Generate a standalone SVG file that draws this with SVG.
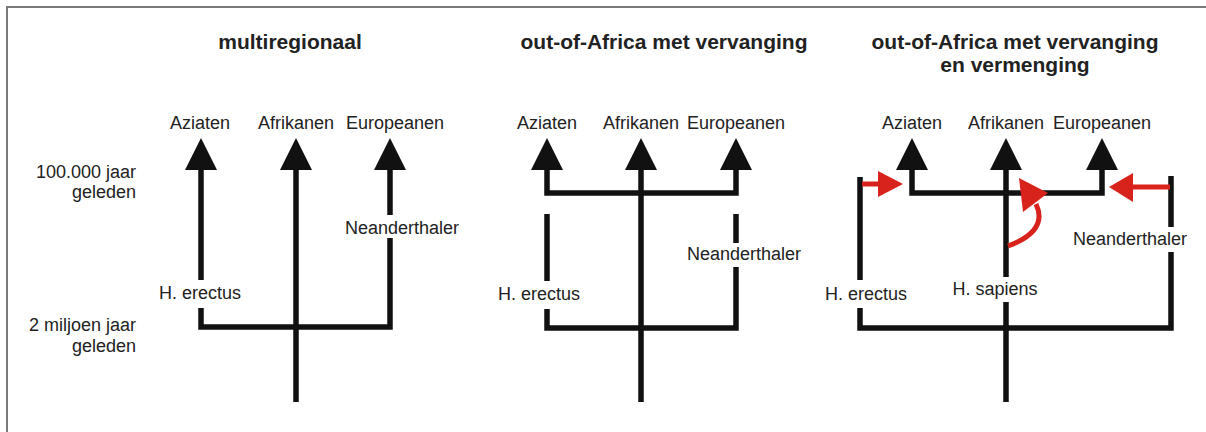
<svg xmlns="http://www.w3.org/2000/svg" width="1206" height="432" viewBox="0 0 1206 432">
<defs>
<style>
.t{font-family:"Liberation Sans",Arial,sans-serif;font-weight:bold;font-size:21px;fill:#222;text-anchor:middle}
.l{font-family:"Liberation Sans",Arial,sans-serif;font-size:18px;fill:#222;text-anchor:middle}
.r{text-anchor:end}
.k{fill:none;stroke:#111;stroke-width:5.5;stroke-linecap:butt;stroke-linejoin:miter}
.h{fill:#111}
.red{fill:none;stroke:#d8231d;stroke-width:5}
.rh{fill:#d8231d}
</style>
</defs>
<rect width="1206" height="432" fill="#fff"/>
<path d="M7,432 V7 H1206" fill="none" stroke="#7a7a7a" stroke-width="2"/>

<g id="axis">
<text class="l r" x="136" y="178">100.000 jaar</text>
<text class="l r" x="136" y="198">geleden</text>
<text class="l r" x="136" y="331">2 miljoen jaar</text>
<text class="l r" x="136" y="352">geleden</text>
</g>

<g id="panel1">
<text class="t" x="290" y="49">multiregionaal</text>
<text class="l" x="200" y="129">Aziaten</text>
<text class="l" x="296" y="129">Afrikanen</text>
<text class="l" x="395" y="129">Europeanen</text>
<text class="l" x="402" y="234">Neanderthaler</text>
<text class="l" x="200" y="299">H. erectus</text>
</g>

<g id="panel2">
<text class="t" x="664" y="49">out-of-Africa met vervanging</text>
<text class="l" x="547" y="129">Aziaten</text>
<text class="l" x="641" y="129">Afrikanen</text>
<text class="l" x="736" y="129">Europeanen</text>
<text class="l" x="744" y="260">Neanderthaler</text>
<text class="l" x="539" y="300">H. erectus</text>
</g>

<g id="panel3">
<text class="t" x="1015" y="49">out-of-Africa met vervanging</text>
<text class="t" x="1015" y="72">en vermenging</text>
<text class="l" x="912" y="129">Aziaten</text>
<text class="l" x="1006" y="129">Afrikanen</text>
<text class="l" x="1102" y="129">Europeanen</text>
<text class="l" x="1130" y="245">Neanderthaler</text>
<text class="l" x="866" y="300">H. erectus</text>
<text class="l" x="995" y="295">H. sapiens</text>
</g>

<g id="connectors">
<!-- panel 1 -->
<path class="k" d="M201,168 V280 M201,308 V327 H390 V238 M390,215 V168 M296,168 V402"/>
<polygon class="h" points="201,138 185,170 217,170"/>
<polygon class="h" points="296,138 280,170 312,170"/>
<polygon class="h" points="390,138 374,170 406,170"/>
<!-- panel 2 -->
<path class="k" d="M547,168 V193 H736 V168 M641,168 V402 M547,214 V281 M547,309 V328 H736 V267 M736,243 V214"/>
<polygon class="h" points="547,138 531,170 563,170"/>
<polygon class="h" points="641,138 625,170 657,170"/>
<polygon class="h" points="736,138 720,170 752,170"/>
<!-- panel 3 -->
<path class="k" d="M912,168 V193 H1102 V168 M1006,168 V277 M1006,302 V402 M860,177 V280 M860,308 V328 H1171 V252 M1171,227 V176"/>
<polygon class="h" points="912,138 896,170 928,170"/>
<polygon class="h" points="1006,138 990,170 1022,170"/>
<polygon class="h" points="1102,138 1086,170 1118,170"/>
<!-- red gene-flow arrows -->
<path class="red" d="M862,184 H880"/>
<polygon class="rh" points="878,171 903,184 878,197"/>
<path class="red" d="M1170,187 H1131"/>
<polygon class="rh" points="1133,173 1109,187 1133,202"/>
<path class="red" d="M1008,246 C1030,238 1046,225 1036,204"/>
<polygon class="rh" points="1019,178 1048,193 1023,212"/>
</g>
</svg>
